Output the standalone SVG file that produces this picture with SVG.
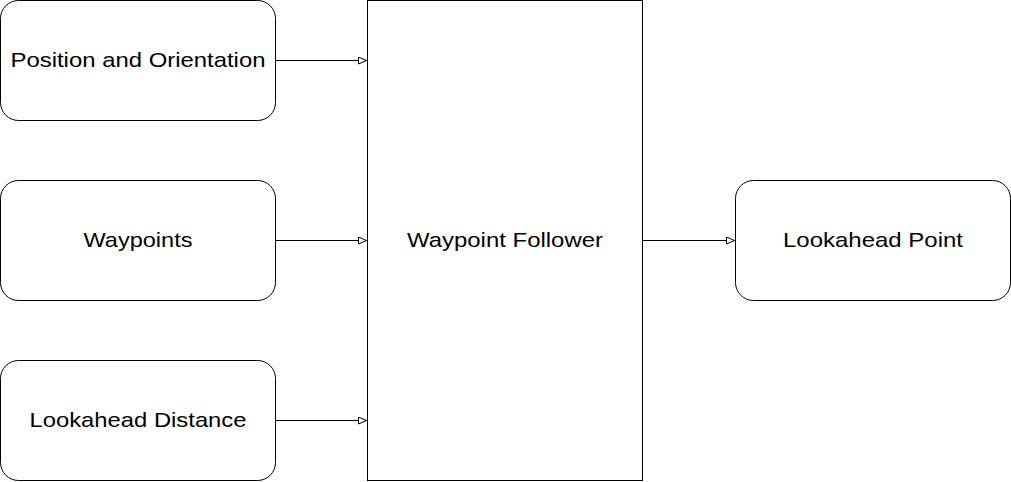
<svg xmlns="http://www.w3.org/2000/svg" width="1011" height="482" viewBox="0 0 1011 482">
<style>
.box{fill:#fff;stroke:#000;stroke-width:1}
.t{font-family:"Liberation Sans",Arial,sans-serif;font-size:21px;fill:#000;text-anchor:middle;dominant-baseline:central}
.c{stroke:#000;stroke-width:1;fill:none}
</style>
<defs>
<marker id="arr" markerUnits="userSpaceOnUse" markerWidth="12" markerHeight="10" refX="9" refY="4" orient="auto" viewBox="0 0 12 10">
<path d="M1,0.5 L9,4 L1,7.5 Z" fill="#fff" stroke="#000" stroke-width="1"/>
</marker>
</defs>
<rect width="1011" height="482" fill="#fff"/>
<g id="pos"><rect class="box" x="0.5" y="0.5" width="275" height="120" rx="18" ry="18"/><text class="t" x="138" y="59.5" textLength="255" lengthAdjust="spacingAndGlyphs">Position and Orientation</text></g>
<g id="wp"><rect class="box" x="0.5" y="180.5" width="275" height="120" rx="18" ry="18"/><text class="t" x="138" y="239.5" textLength="109" lengthAdjust="spacingAndGlyphs">Waypoints</text></g>
<g id="ld"><rect class="box" x="0.5" y="360.5" width="275" height="120" rx="18" ry="18"/><text class="t" x="138" y="419.5" textLength="217" lengthAdjust="spacingAndGlyphs">Lookahead Distance</text></g>
<g id="wf"><rect class="box" x="367.5" y="0.5" width="275" height="480"/><text class="t" x="505" y="239.5" textLength="196" lengthAdjust="spacingAndGlyphs">Waypoint Follower</text></g>
<g id="lp"><rect class="box" x="735.5" y="180.5" width="275" height="120" rx="18" ry="18"/><text class="t" x="873" y="239.5" textLength="180" lengthAdjust="spacingAndGlyphs">Lookahead Point</text></g>
<g id="connectors">
<path class="c" d="M275.5,60.5 H366.5" marker-end="url(#arr)"/>
<path class="c" d="M275.5,240.5 H366.5" marker-end="url(#arr)"/>
<path class="c" d="M275.5,420.5 H366.5" marker-end="url(#arr)"/>
<path class="c" d="M642.5,240.5 H734.5" marker-end="url(#arr)"/>
</g>
</svg>
